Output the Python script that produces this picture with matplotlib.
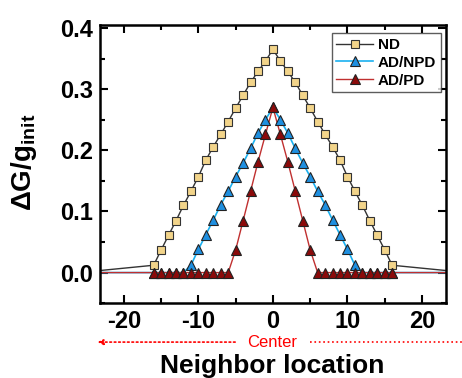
import matplotlib
matplotlib.use("Agg")
import matplotlib.pyplot as plt
from matplotlib.ticker import MultipleLocator

plt.rcParams['font.family'] = ['Liberation Sans', 'DejaVu Sans']
plt.rcParams['axes.unicode_minus'] = False
plt.rcParams['mathtext.fontset'] = 'custom'
plt.rcParams['mathtext.rm'] = 'Liberation Sans'
plt.rcParams['mathtext.bf'] = 'Liberation Sans:bold'

# neighbour positions
x_nd = list(range(-16, 17))
nd_half = [0.012, 0.037, 0.061, 0.085, 0.110, 0.133, 0.157, 0.184, 0.206,
           0.226, 0.247, 0.269, 0.290, 0.311, 0.329, 0.346]
nd = nd_half + [0.365] + nd_half[::-1]

npd_half = [0, 0, 0, 0, 0, 0.012, 0.038, 0.062, 0.086, 0.111, 0.133, 0.157,
            0.179, 0.203, 0.228, 0.250]
npd = npd_half + [0.270] + npd_half[::-1]

pd_half = [0, 0, 0, 0, 0, 0, 0, 0, 0, 0, 0, 0.037, 0.085, 0.133, 0.181, 0.226]
pdv = pd_half + [0.270] + pd_half[::-1]

# far-away neighbours (outside the view)
x_far = [-26] + x_nd + [26]
nd_far = [0] + nd + [0]
npd_far = [0] + npd + [0]
pd_far = [0] + pdv + [0]

fig = plt.figure(figsize=(4.62, 3.78), dpi=100)
ax = fig.add_axes([0.2165, 0.198, 0.7485, 0.736])

ax.plot(x_far, nd_far, '-', color='#333333', lw=1.0, zorder=2)
ax.plot(x_nd, nd, 's', mfc='#F2D48A', mec='#333333', ms=5.5, mew=0.8, zorder=3)
ax.plot(x_far, npd_far, '-', color='#1AB0F0', lw=1.2, zorder=2)
ax.plot(x_nd, npd, '^', mfc='#1E8FE0', mec='#222222', ms=6.5, mew=0.8, zorder=4)
ax.plot(x_far, pd_far, '-', color='#C03030', lw=1.0, zorder=2)
ax.plot(x_nd, pdv, '^', mfc='#8B0A0A', mec='#222222', ms=6.5, mew=0.8, zorder=5)

# legend handles
h1, = ax.plot([], [], '-s', color='#333333', mfc='#F2D48A', mec='#333333', ms=5.5, mew=0.8, lw=1.0)
h2, = ax.plot([], [], '-^', color='#1AB0F0', mfc='#1E8FE0', mec='#222222', ms=6.5, mew=0.8, lw=1.2)
h3, = ax.plot([], [], '-^', color='#C03030', mfc='#8B0A0A', mec='#222222', ms=6.5, mew=0.8, lw=1.0)
leg = ax.legend([h1, h2, h3], ['ND', 'AD/NPD', 'AD/PD'], loc='upper right',
                bbox_to_anchor=(0.985, 0.97), prop={'weight': 'bold', 'size': 11},
                fancybox=False, edgecolor='#333333', handlelength=2.4,
                handletextpad=0.3, labelspacing=0.25, borderpad=0.3, borderaxespad=0)
leg.get_frame().set_linewidth(1.0)

ax.set_xlim(-23.2, 23.2)
ax.set_ylim(-0.05, 0.405)
ax.xaxis.set_major_locator(MultipleLocator(10))
ax.xaxis.set_minor_locator(MultipleLocator(5))
ax.yaxis.set_major_locator(MultipleLocator(0.1))
ax.yaxis.set_minor_locator(MultipleLocator(0.05))
ax.yaxis.set_major_formatter(matplotlib.ticker.FormatStrFormatter('%.1f'))
ax.tick_params(which='both', direction='in', top=True, right=True, width=1.5)
ax.tick_params(which='major', length=6, labelsize=17, pad=5)
ax.tick_params(which='minor', length=3.5)
for lab in ax.get_xticklabels() + ax.get_yticklabels():
    lab.set_fontweight('bold')
for s in ax.spines.values():
    s.set_linewidth(1.8)

fig.text(0.052, 0.57, 'ΔG/g$_{\\mathbf{init}}$', rotation=90, ha='center', va='center',
         fontsize=20, fontweight='bold')
fig.text(0.59, 0.012, 'Neighbor location', ha='center', va='baseline',
         fontsize=19, fontweight='bold')

# "Center" marker under the axis
fig.text(0.59, 0.095, 'Center', color='red', ha='center', va='center', fontsize=12)
fig.add_artist(matplotlib.patches.FancyArrowPatch(
    (0.515, 0.095), (0.205, 0.095), transform=fig.transFigure,
    arrowstyle='-|>', mutation_scale=8, color='red', lw=1.2, linestyle=':'))
fig.add_artist(matplotlib.lines.Line2D([0.67, 1.0], [0.095, 0.095], transform=fig.transFigure,
                                       color='red', lw=1.2, linestyle=':'))

fig.savefig('out.png', dpi=100)
